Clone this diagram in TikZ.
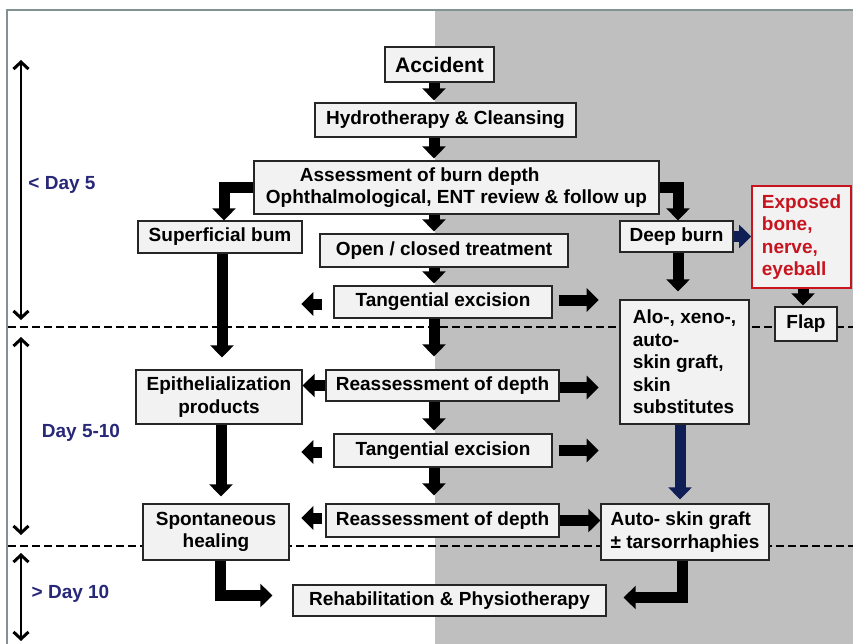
\documentclass[tikz,border=0pt]{standalone}
\usepackage{fontspec}
\setmainfont{Liberation Sans}
\usetikzlibrary{arrows.meta,calc}
\definecolor{bggray}{RGB}{191,191,191}
\definecolor{boxfill}{RGB}{242,242,242}
\definecolor{framegray}{RGB}{130,145,145}
\definecolor{daycol}{RGB}{40,40,120}
\definecolor{navyc}{RGB}{15,30,85}
\definecolor{redbox}{RGB}{200,20,30}
\begin{document}
\begin{tikzpicture}[x=1pt,y=-1pt,
  box/.style={draw=black!85, line width=1.3pt, fill=boxfill, inner sep=0pt,
    font=\fontsize{19}{22.5}\selectfont\bfseries, align=center},
  arr/.style={line width=11pt, -{Triangle[width=23pt,length=12pt]}},
  navyarr/.style={arr, draw=navyc},
  span/.style={line width=2.2pt, {Straight Barb[length=7pt,width=15pt,line width=3pt]}-{Straight Barb[length=7pt,width=15pt,line width=3pt]}},
  dashes/.style={line width=2pt, dash pattern=on 8pt off 4pt},
  daylabel/.style={text=daycol, font=\fontsize{19}{22}\selectfont\bfseries, inner sep=0pt}
]
\useasboundingbox (0,0) rectangle (853,644);
\fill[white] (0,0) rectangle (853,644);
\fill[bggray] (435,10) rectangle (853,644);
\draw[framegray, line width=1.2pt] (7,644) -- (7,10) -- (853,10);

% period separators
\draw[dashes] (8,327) -- (853,327);
\draw[dashes] (8,546) -- (853,546);

% period spans
\draw[span] (21,60) -- (21,320);
\draw[span] (21,337) -- (21,535);
\draw[span] (21,553) -- (21,641);
\node[daylabel] (d1) at (62,185) {< Day 5};
\node[daylabel] (d2) at (81,433) {Day 5-10};
\node[daylabel] (d3) at (70.5,594) {> Day 10};

% boxes
\node[box, minimum width=109, minimum height=35, font=\fontsize{21}{24}\selectfont\bfseries] (acc) at (439.5,64.5) {Accident};
\node[box, minimum width=261, minimum height=34] (hyd) at (445.5,120) {Hydrotherapy \& Cleansing};
\node[box, minimum width=405, minimum height=53, align=left] (ass) at (456.5,187.5) {\hspace*{34pt}Assessment of burn depth\\Ophthalmological, ENT review \& follow up};
\node[box, minimum width=164, minimum height=32] (sup) at (220,237) {Superficial bum};
\node[box, minimum width=248, minimum height=33] (open) at (444,250.5) {Open / closed treatment};
\node[box, minimum width=218, minimum height=32] (tan1) at (443,302) {Tangential excision};
\node[box, minimum width=113, minimum height=31] (deep) at (676.5,236.5) {Deep burn};
\node[box, draw=redbox, line width=1.8pt, text=redbox, align=left, minimum width=99, minimum height=102] (exp) at (801.5,237) {Exposed\\bone,\\nerve,\\eyeball};
\node[box, minimum width=62, minimum height=34] (flap) at (806,324) {Flap};
\node[box, align=left, minimum width=129, minimum height=124] (alo) at (684.5,362) {Alo-, xeno-,\\auto-\\skin graft,\\skin\\substitutes};
\node[box, minimum width=166, minimum height=54] (epi) at (219,397) {Epithelialization\\products};
\node[box, minimum width=233, minimum height=31] (re1) at (442.5,385.5) {Reassessment of depth};
\node[box, minimum width=218, minimum height=33] (tan2) at (443,450.5) {Tangential excision};
\node[box, minimum width=146, minimum height=56] (spo) at (216,532) {Spontaneous\\healing};
\node[box, minimum width=233, minimum height=33] (re2) at (442.5,520.5) {Reassessment of depth};
\node[box, align=left, minimum width=168, minimum height=56] (auto) at (685,532) {Auto- skin graft\\± tarsorrhaphies};
\node[box, minimum width=313, minimum height=31] (rehab) at (449.5,600.5) {Rehabilitation \& Physiotherapy};

% central axis arrows
\coordinate (ax) at (434,0);
\draw[arr, shorten >=2pt] (acc.south -| ax) -- (hyd.north -| ax);
\draw[arr, shorten >=2pt] (hyd.south -| ax) -- (ass.north -| ax);
\draw[arr, shorten >=2pt] (ass.south -| ax) -- (open.north -| ax);
\draw[arr, shorten >=2pt] (open.south -| ax) -- (tan1.north -| ax);
\draw[arr, shorten >=13pt] (tan1.south -| ax) -- (re1.north -| ax);
\draw[arr, shorten >=3pt] (re1.south -| ax) -- (tan2.north -| ax);
\draw[arr, shorten >=8pt] (tan2.south -| ax) -- (re2.north -| ax);

% branches
\coordinate (supin) at ([xshift=4pt]sup.north);
\draw[arr] (ass.west) -| (supin);
\coordinate (deepin) at ([xshift=1.5pt]deep.north);
\draw[arr] (ass.east) -| (deepin);

% left column
\coordinate (s1) at ([xshift=2pt]sup.south);
\draw[arr, shorten >=12pt] (s1) -- (s1 |- epi.north);
\coordinate (s2) at ([xshift=2pt]epi.south);
\draw[arr, shorten >=7pt] (s2) -- (s2 |- spo.north);
\coordinate (s3) at ([xshift=4pt]spo.south);
\coordinate (r1) at ([xshift=-20pt,yshift=5pt]rehab.west);
\draw[arr] (s3) |- (r1);

% right column
\coordinate (d1s) at ([xshift=1.5pt]deep.south);
\draw[arr, shorten >=8pt] (d1s) -- (d1s |- alo.north);
\coordinate (a1s) at ([xshift=-4.5pt]alo.south);
\draw[navyarr, shorten >=4pt] (a1s) -- (a1s |- auto.north);
\draw[navyarr] (deep.east) -- (deep.east -| exp.west);
\coordinate (e1s) at ([xshift=1.5pt]exp.south);
\draw[arr, shorten >=1pt] (e1s) -- (e1s |- flap.north);
\coordinate (u1s) at ([xshift=-3pt]auto.south);
\coordinate (r2) at ([xshift=17pt,yshift=3pt]rehab.east);
\draw[arr] (u1s) |- (r2);

% side arrows
\draw[arr] ([xshift=-11pt,yshift=-2pt]tan1.west) -- ++(-21,0);
\draw[arr] ([xshift=6pt,yshift=2pt]tan1.east) -- ++(40,0);
\draw[arr] (re1.west) -- (re1.west -| epi.east);
\draw[arr] ([yshift=-2pt]re1.east) -- ++(39,0);
\draw[arr] ([xshift=-11pt,yshift=-1.5pt]tan2.west) -- ++(-21,0);
\draw[arr] ([xshift=6pt]tan2.east) -- ++(40,0);
\draw[arr] ([xshift=-3pt,yshift=2.5pt]re2.west) -- ++(-21,0);
\draw[arr] (re2.east) -- (re2.east -| auto.west);
\end{tikzpicture}
\end{document}
